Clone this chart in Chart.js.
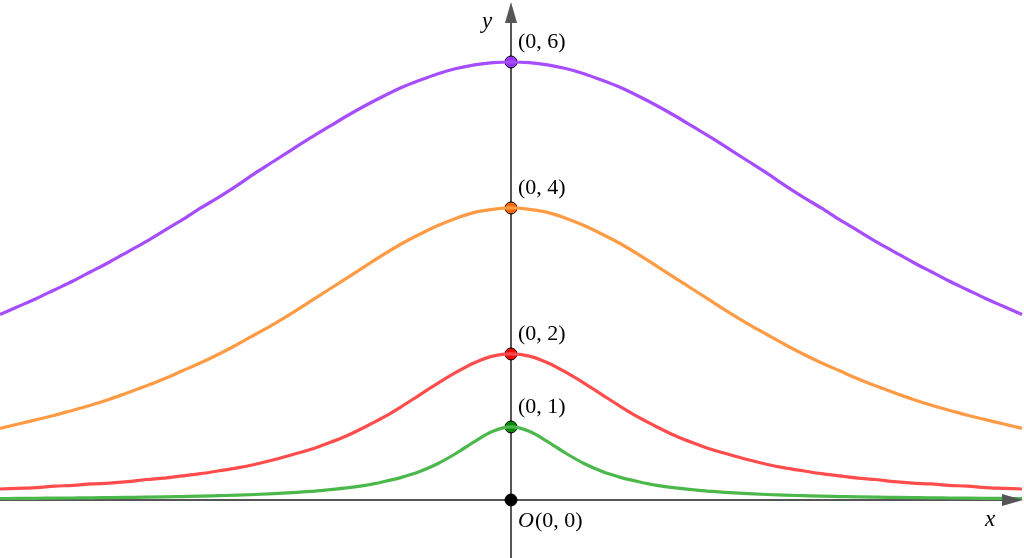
<!DOCTYPE html>
<html>
<head>
<meta charset="utf-8">
<script src="https://cdn.jsdelivr.net/npm/chart.js@4.4.1/dist/chart.umd.min.js"></script>
<style>
  html, body { margin: 0; padding: 0; background: #fff; }
  #wrap { width: 1024px; height: 558px; }
</style>
</head>
<body>
<div id="wrap"><canvas id="Chart"></canvas></div>
<script>
  const xHalf = [0, 0.25, 0.5, 0.75, 1, 1.25, 1.5, 1.75, 2, 2.25, 2.5, 2.75, 3, 3.25, 3.5, 3.75,
    4, 4.25, 4.5, 4.75, 5, 5.25, 5.5, 5.75, 6, 6.25, 6.5, 6.75, 7];

  const purpleHalf = [6.00, 5.99, 5.96, 5.91, 5.84, 5.75, 5.65, 5.53, 5.40, 5.26, 5.11, 4.96, 4.80, 4.64, 4.48, 4.31,
    4.15, 4.00, 3.84, 3.69, 3.54, 3.40, 3.26, 3.13, 3.00, 2.88, 2.76, 2.65, 2.54];
  const orangeHalf = [4.00, 3.98, 3.94, 3.86, 3.76, 3.64, 3.51, 3.36, 3.20, 3.04, 2.88, 2.72, 2.56, 2.41, 2.27, 2.13,
    2.00, 1.88, 1.77, 1.66, 1.56, 1.47, 1.38, 1.30, 1.23, 1.16, 1.10, 1.04, 0.98];
  const redHalf = [2.00, 1.97, 1.88, 1.75, 1.60, 1.44, 1.28, 1.13, 1.00, 0.88, 0.78, 0.69, 0.62, 0.55, 0.49, 0.44,
    0.40, 0.36, 0.33, 0.30, 0.28, 0.25, 0.23, 0.22, 0.20, 0.19, 0.17, 0.16, 0.15];
  const greenHalf = [1.00, 0.94, 0.80, 0.64, 0.50, 0.39, 0.31, 0.25, 0.20, 0.165, 0.14, 0.117, 0.10, 0.086, 0.075, 0.066,
    0.059, 0.052, 0.047, 0.042, 0.038, 0.035, 0.032, 0.029, 0.027, 0.025, 0.023, 0.021, 0.020];

  const peakLabels = ["O(0, 0)", "(0, 1)", "(0, 2)", "(0, 4)", "(0, 6)"];
  const peakY = [0, 1, 2, 4, 6];
  const peakColors = ["#000000", "#008a00", "#ff0000", "#ff6600", "#9933ff"];

  function full(half) {
    const pts = [];
    for (let i = half.length - 1; i > 0; i--) pts.push({ x: -xHalf[i], y: half[i] });
    for (let i = 0; i < half.length; i++) pts.push({ x: xHalf[i], y: half[i] });
    return pts;
  }

  function curve(half, color) {
    return {
      data: full(half),
      showLine: true,
      borderColor: color,
      borderWidth: 3.2,
      pointRadius: 0,
      cubicInterpolationMode: "monotone",
      fill: false,
      clip: false,
    };
  }

  const axesPlugin = {
    id: "axes",
    beforeDatasetsDraw(chart) {
      const c = chart.ctx;
      const sx = chart.scales.x, sy = chart.scales.y;
      const ox = sx.getPixelForValue(0), oy = sy.getPixelForValue(0);
      c.save();
      c.strokeStyle = "#555555";
      c.lineWidth = 2;
      c.beginPath();
      c.moveTo(0, oy); c.lineTo(1004, oy);
      c.moveTo(ox, 558); c.lineTo(ox, 22);
      c.stroke();
      c.restore();
    },
    afterDatasetsDraw(chart) {
      const c = chart.ctx;
      const sx = chart.scales.x, sy = chart.scales.y;
      const ox = sx.getPixelForValue(0), oy = sy.getPixelForValue(0);
      c.save();
      c.fillStyle = "#555555";
      // arrow heads
      c.beginPath();
      c.moveTo(1023, oy); c.lineTo(1002, oy - 6); c.lineTo(1002, oy + 6); c.closePath();
      c.fill();
      c.beginPath();
      c.moveTo(ox, 2); c.lineTo(ox - 6, 23); c.lineTo(ox + 6, 23); c.closePath();
      c.fill();

      c.fillStyle = "#000";
      c.font = "italic 23px 'Liberation Serif', 'DejaVu Serif', serif";
      c.textBaseline = "middle";
      c.fillText("x", 985, 520);
      c.fillText("y", 482, 22);

      c.font = "22px 'Liberation Serif', 'DejaVu Serif', serif";
      peakY.forEach((v, i) => {
        const py = sy.getPixelForValue(v);
        if (i === 0) {
          c.font = "italic 22px 'Liberation Serif', 'DejaVu Serif', serif";
          c.fillText("O", 518, py + 21);
          const w = c.measureText("O").width;
          c.font = "22px 'Liberation Serif', 'DejaVu Serif', serif";
          c.fillText(peakLabels[i].slice(1), 518 + w + 1, py + 21);
        } else {
          c.fillText(peakLabels[i], 518, py - 20);
        }
      });
      c.restore();
    },
  };

  const ctx = document.getElementById("Chart").getContext("2d");

  new Chart(ctx, {
    type: "scatter",
    data: {
      datasets: [
        curve(purpleHalf, "#a64dff"),
        curve(orangeHalf, "#ff9b45"),
        curve(redHalf, "#ff4d4d"),
        curve(greenHalf, "#4cb84c"),
        {
          data: peakY.map((v) => ({ x: 0, y: v })),
          showLine: false,
          pointRadius: 6,
          pointBorderWidth: 1,
          pointBorderColor: "#000",
          pointBackgroundColor: peakColors,
          clip: false,
        },
      ],
    },
    options: {
      responsive: true,
      maintainAspectRatio: false,
      animation: false,
      layout: { padding: 0, autoPadding: false },
      plugins: {
        legend: { display: false },
        tooltip: { enabled: false },
      },
      scales: {
        x: { type: "linear", display: false, min: -7.0, max: 7.027 },
        y: { type: "linear", display: false, min: -0.795, max: 6.849 },
      },
    },
    plugins: [axesPlugin],
  });
</script>
</body>
</html>
